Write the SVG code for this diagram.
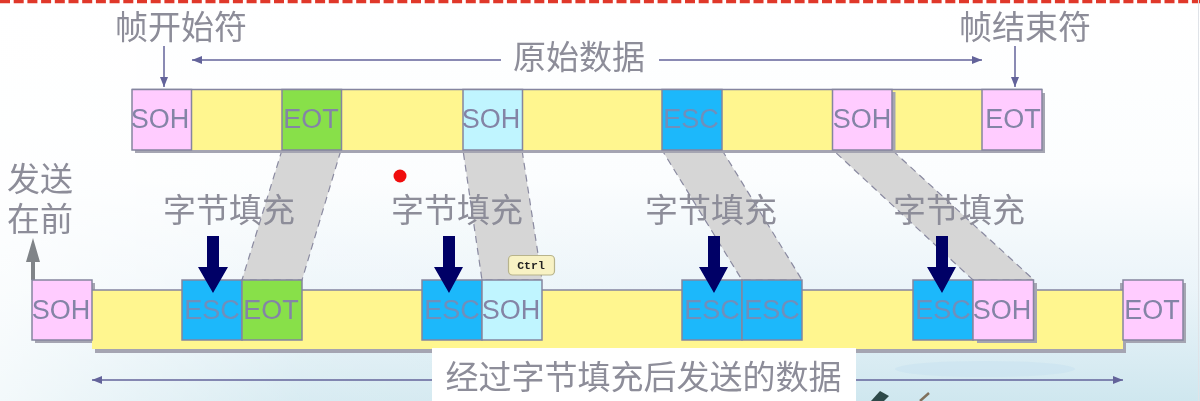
<svg xmlns="http://www.w3.org/2000/svg" width="1200" height="401" viewBox="0 0 1200 401">
<defs>
<linearGradient id="bg" x1="0" y1="0" x2="0" y2="1"><stop offset="0" stop-color="#ffffff"/><stop offset="0.45" stop-color="#fbfdfe"/><stop offset="0.72" stop-color="#ebf4f9"/><stop offset="1" stop-color="#cfe7ef"/></linearGradient>
<linearGradient id="side" x1="0" y1="0" x2="1" y2="0"><stop offset="0" stop-color="#ffffff" stop-opacity=".75"/><stop offset="0.25" stop-color="#ffffff" stop-opacity=".2"/><stop offset="0.6" stop-color="#ffffff" stop-opacity="0"/></linearGradient>
<marker id="ah" markerWidth="12" markerHeight="8" refX="10" refY="4" orient="auto" markerUnits="userSpaceOnUse"><path d="M0 0L10 4L0 8Z" fill="#63639a"/></marker>
<filter id="soft" x="0" y="0" width="100%" height="100%"><feGaussianBlur stdDeviation="0.65"/></filter>
</defs>
<style>
.t{font-family:"Noto Sans CJK SC","Noto Sans",sans-serif;font-size:33px;fill:#8d8d99;text-anchor:middle}
.b{stroke:#85859f;stroke-width:1.5}
.l{font-family:"Liberation Sans",Arial,sans-serif;font-size:27px;fill:#8484a6;text-anchor:middle}
.e{fill:#6f8fbb}
.pink{fill:#ffccff}.yel{fill:#fff68f;stroke:none}.grn{fill:#88e04a}.cy{fill:#c0f5ff}.blu{fill:#1cb8fb}
.sh{fill:#a5a5b2}
.g{fill:#d6d6d6;stroke:#8a8aa0;stroke-width:1.2;stroke-dasharray:7 5}
.a{stroke:#63639a;stroke-width:1.5;fill:none;marker-end:url(#ah)}
.nav{fill:#000066}
</style>
<g filter="url(#soft)">
<rect width="1200" height="401" fill="url(#bg)"/>
<rect width="1200" height="401" fill="url(#side)"/>
<ellipse cx="985" cy="369" rx="90" ry="8" fill="#c6dff0" opacity=".45"/>
<line x1="0" y1="1.500" x2="1200" y2="1.500" stroke="#e0392c" stroke-width="3.500" stroke-dasharray="10 3.700"/>
<line x1="1198.500" y1="0" x2="1198.500" y2="401" stroke="#dfe3e8" stroke-width="1"/>
<g id="connectors">
<path class="g" d="M282 150H341L302 280H242Z"/>
<path class="g" d="M463 150H522L542 280H482Z"/>
<path class="g" d="M662 150H722L802 280H742Z"/>
<path class="g" d="M833 150H892L1034 280H973Z"/>
<line class="a" x1="164" y1="46" x2="164" y2="87"/>
<line class="a" x1="1015" y1="46" x2="1015" y2="87"/>
<line class="a" x1="501" y1="60" x2="192" y2="60"/>
<line class="a" x1="659" y1="60" x2="982" y2="60"/>
<line class="a" x1="432" y1="380" x2="92" y2="380"/>
<line class="a" x1="856" y1="380" x2="1123" y2="380"/>
<path d="M31 280V262H26L33 238L40 262H35V280Z" fill="#808488"/>
</g>
<g id="frame-top">
<rect class="sh" x="135" y="93" width="910" height="60"/>
<rect class="yel" x="132" y="89.500" width="910" height="60.500"/>
<line x1="132" y1="89.500" x2="1042" y2="89.500" stroke="#85859f" stroke-width="1.500"/>
</g>
<g id="top-soh-1"><rect class="pink b" x="132" y="89.500" width="59.500" height="60.500"/><text class="l" x="160" y="128">SOH</text></g>
<g id="top-eot-1"><rect class="grn b" x="282" y="89.500" width="59.500" height="60.500"/><text class="l" x="311" y="128">EOT</text></g>
<g id="top-soh-2"><rect class="cy b" x="463" y="89.500" width="59.500" height="60.500"/><text class="l" x="491" y="128">SOH</text></g>
<g id="top-esc"><rect class="blu b" x="662" y="89.500" width="60" height="60.500"/><text class="l e" x="691" y="128">ESC</text></g>
<g id="top-soh-3"><rect class="sh" x="836" y="92" width="59.500" height="60.500"/><rect class="pink b" x="832.500" y="89.500" width="59.500" height="60.500"/><text class="l" x="862" y="128">SOH</text></g>
<g id="top-eot-2"><rect class="pink b" x="982" y="89.500" width="60" height="60.500"/><text class="l" x="1013" y="128">EOT</text></g>
<rect class="sh" x="35" y="283" width="60" height="60"/>
<rect class="sh" x="1120" y="283" width="66" height="60"/>
<g id="frame-bottom">
<rect class="sh" x="95" y="294" width="1031" height="59"/>
<rect class="yel" x="92" y="290" width="1031" height="59"/>
<line x1="92" y1="290" x2="1123" y2="290" stroke="#85859f" stroke-width="1.500"/>
</g>
<g id="bot-soh-1"><rect class="pink b" x="32" y="280" width="60" height="60"/><text class="l" x="61" y="319">SOH</text></g>
<g id="bot-esc-1"><rect class="blu b" x="182" y="280" width="60" height="60"/><text class="l e" x="212" y="319">ESC</text></g>
<g id="bot-eot-1"><rect class="grn b" x="242" y="280" width="60" height="60"/><text class="l" x="271" y="319">EOT</text></g>
<g id="bot-esc-2"><rect class="blu b" x="422" y="280" width="60" height="60"/><text class="l e" x="452" y="319">ESC</text></g>
<g id="bot-soh-2"><rect class="cy b" x="482" y="280" width="60" height="60"/><text class="l" x="511" y="319">SOH</text></g>
<g id="bot-esc-3"><rect class="blu b" x="682" y="280" width="60" height="60"/><text class="l e" x="712" y="319">ESC</text></g>
<g id="bot-esc-4"><rect class="blu b" x="742" y="280" width="60" height="60"/><text class="l e" x="772" y="319">ESC</text></g>
<g id="bot-esc-5"><rect class="blu b" x="913" y="280" width="60" height="60"/><text class="l e" x="943" y="319">ESC</text></g>
<g id="bot-soh-3"><rect class="sh" x="977" y="283" width="60" height="60"/><rect class="pink b" x="973" y="280" width="60.500" height="60"/><text class="l" x="1002" y="319">SOH</text></g>
<g id="bot-eot-2"><rect class="pink b" x="1123" y="280" width="60" height="60"/><text class="l" x="1152" y="319">EOT</text></g>
<g id="labels">
<text class="t" x="181" y="39">帧开始符</text>
<text class="t" x="1025" y="39">帧结束符</text>
<text class="t" x="579" y="69">原始数据</text>
<text class="t"><tspan x="40" y="191">发送</tspan><tspan x="40" y="231">在前</tspan></text>
<text class="t" x="229" y="222">字节填充</text>
<text class="t" x="457" y="222">字节填充</text>
<text class="t" x="711" y="222">字节填充</text>
<text class="t" x="959" y="222">字节填充</text>
</g>
<g id="fill-arrows" class="nav">
<path d="M207 236H219V267H228L213 293L198 267H207Z"/>
<path d="M443 236H455V267H463L449 293L434 267H443Z"/>
<path d="M708 236H720V267H728L714 293L699 267H708Z"/>
<path d="M936 236H948V267H956L942 293L927 267H936Z"/>
</g>
<circle cx="400" cy="176" r="6.500" fill="#f01010"/>
<g id="ctrl-tip"><rect x="508.500" y="255.500" width="46" height="19.500" rx="4" fill="#f8f2c4" stroke="#b8b48c" stroke-width="1.200"/><text x="531" y="269" font-family="Liberation Mono,monospace" font-size="11.500" font-weight="bold" fill="#222" text-anchor="middle">Ctrl</text></g>
<g id="caption"><rect x="432" y="348" width="424" height="53" fill="#fff"/><text class="t" x="643.500" y="389">经过字节填充后发送的数据</text></g>
<path d="M871 401L880 391L889 396L884 401Z" fill="#2f4a48"/><path d="M920 401L929 393" stroke="#80705c" stroke-width="2.500"/>
</g>
</svg>
